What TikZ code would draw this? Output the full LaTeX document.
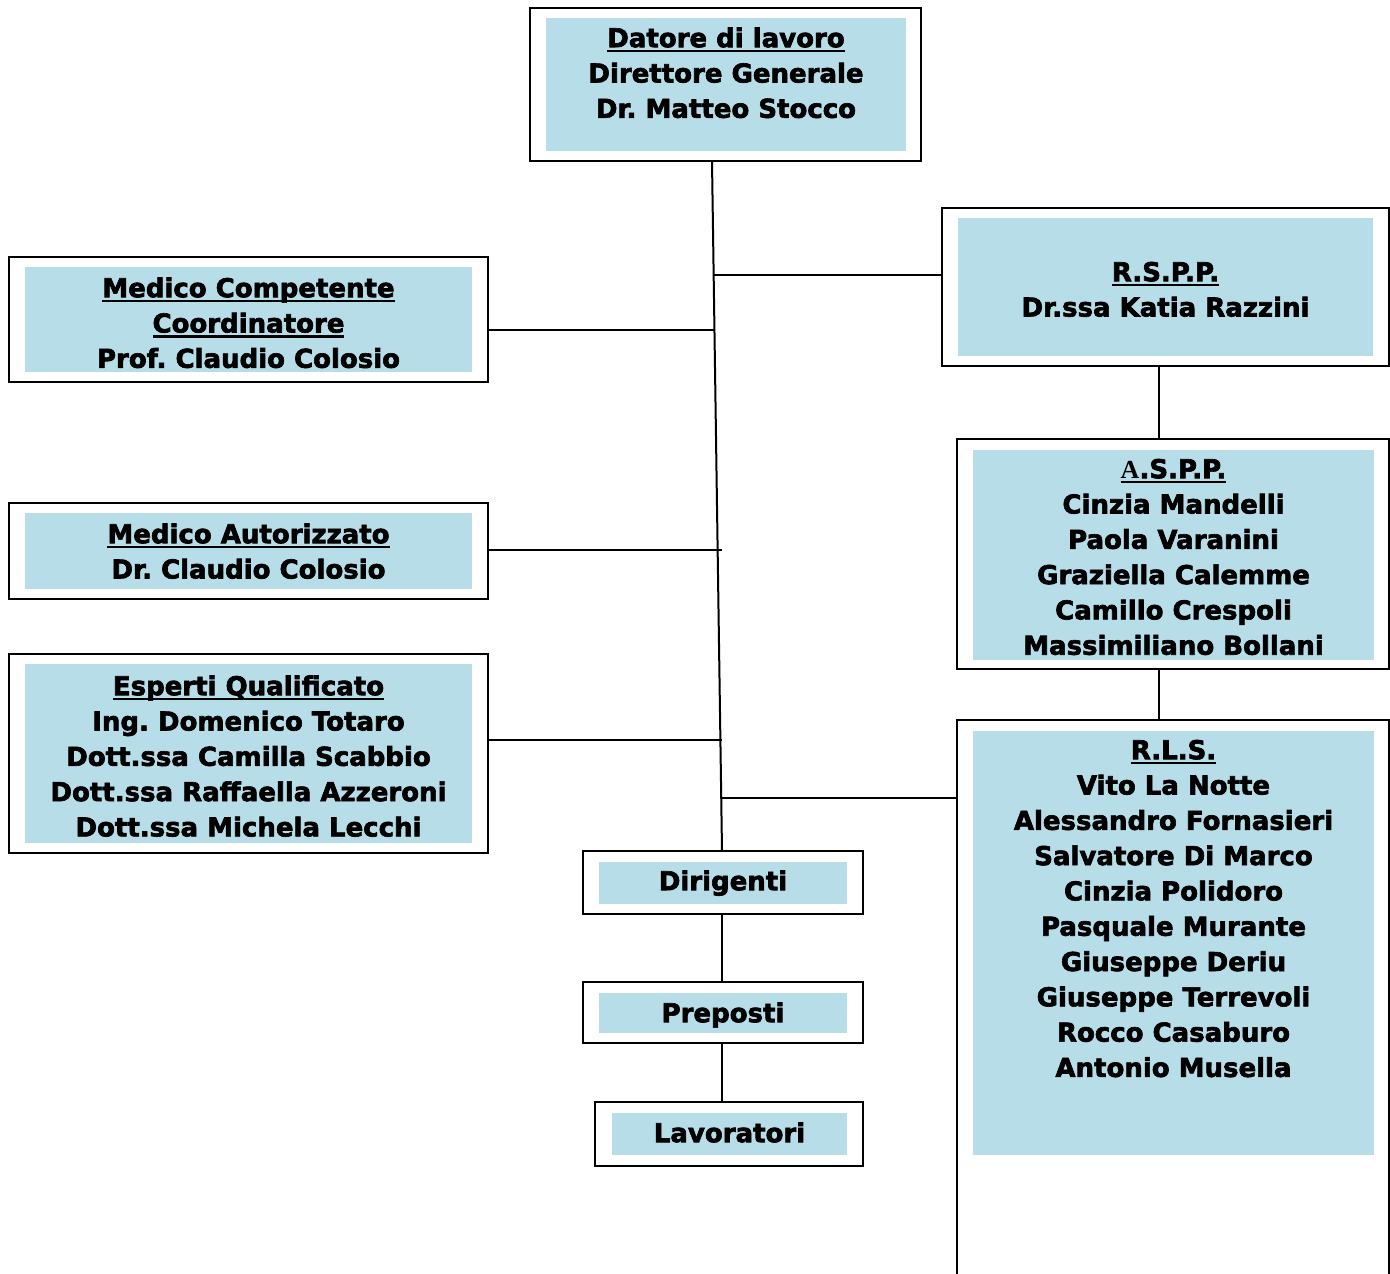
\documentclass[tikz,border=0pt]{standalone}
\usepackage{fontspec}
\setmainfont{DejaVu Sans}[BoldFeatures={FakeBold=2.4}]
\newfontfamily\serA{Liberation Serif}
\usetikzlibrary{fit}
\definecolor{lb}{RGB}{183,221,232}
\newsavebox\ulb
\newcommand\ult[1]{\sbox\ulb{#1}\rlap{\rule[-5pt]{\wd\ulb}{2.5pt}}\usebox\ulb}
\newcommand\ls{\rule[-6pt]{0pt}{27pt}}
\frenchspacing
\begin{document}
\begin{tikzpicture}[x=1pt,y=-1pt,
  outerbox/.style={draw, line width=2pt, inner sep=0pt, outer sep=0pt},
  innerbox/.style={fill=lb, inner sep=0pt, outer sep=0pt},
  txt/.style={font=\bfseries\fontsize{26}{35.3}\selectfont, align=center, inner sep=0pt, anchor=north},
  link/.style={line width=2pt}]
\useasboundingbox (0,0) rectangle (1390,1274);
% boxes
\node[outerbox, fit={(530,8)(921,161)}] (dat) {};
\node[innerbox, fit={(546,18)(906,151)}] (dati) {};
\node[outerbox, fit={(942,208)(1389,366)}] (rspp) {};
\node[innerbox, fit={(958,218)(1373,356)}] (rsppi) {};
\node[outerbox, fit={(9,257)(488,382)}] (mc) {};
\node[innerbox, fit={(25,267)(472,372)}] (mci) {};
\node[outerbox, fit={(9,503)(488,599)}] (ma) {};
\node[innerbox, fit={(25,513)(472,589)}] (mai) {};
\node[outerbox, fit={(9,654)(488,853)}] (eq) {};
\node[innerbox, fit={(25,664)(472,843)}] (eqi) {};
\node[outerbox, fit={(957,439)(1389,669)}] (aspp) {};
\node[innerbox, fit={(973,450)(1374,660)}] (asppi) {};
\node[outerbox, fit={(957,720)(1389,1300)}] (rls) {};
\node[innerbox, fit={(973,731)(1374,1155)}] (rlsi) {};
\node[outerbox, fit={(583,851)(863,914)}] (dir) {};
\node[innerbox, fit={(599,862)(847,904)}] (diri) {};
\node[outerbox, fit={(583,982)(863,1043)}] (prep) {};
\node[innerbox, fit={(599,993)(847,1033)}] (prepi) {};
\node[outerbox, fit={(595,1102)(863,1166)}] (lav) {};
\node[innerbox, fit={(612,1113)(847,1155)}] (lavi) {};
% texts
\node[txt] (datt) at (dati.north |- 0,26) {\ls\ult{Datore di lavoro}\\\ls Direttore Generale\\\ls Dr. Matteo Stocco};
\node[txt] (mct) at (mci.north |- 0,276) {\ls\ult{Medico Competente}\\\ls\ult{Coordinatore}\\\ls Prof. Claudio Colosio};
\node[txt] (mat) at (mai.north |- 0,522) {\ls\ult{Medico Autorizzato}\\\ls Dr. Claudio Colosio};
\node[txt] (eqt) at (eqi.north |- 0,674) {\ls\ult{Esperti Qualificato}\\\ls Ing. Domenico Totaro\\\ls Dott.ssa Camilla Scabbio\\\ls Dott.ssa Raffaella Azzeroni\\\ls Dott.ssa Michela Lecchi};
\node[txt] (rsppt) at (rsppi.north |- 0,260) {\ls\ult{R.S.P.P.}\\\ls Dr.ssa Katia Razzini};
\node[txt] (asppt) at (asppi.north |- 0,457) {\ls\ult{{\serA A}.S.P.P.}\\\ls Cinzia Mandelli\\\ls Paola Varanini\\\ls Graziella Calemme\\\ls Camillo Crespoli\\\ls Massimiliano Bollani};
\node[txt] (rlst) at (rlsi.north |- 0,738) {\ls\ult{R.L.S.}\\\ls Vito La Notte\\\ls Alessandro Fornasieri\\\ls Salvatore Di Marco\\\ls Cinzia Polidoro\\\ls Pasquale Murante\\\ls Giuseppe Deriu\\\ls Giuseppe Terrevoli\\\ls Rocco Casaburo\\\ls Antonio Musella};
\node[txt] (dirt) at (diri.north |- 0,869) {\ls Dirigenti};
\node[txt] (prept) at (prepi.north |- 0,1001) {\ls Preposti};
\node[txt] (lavt) at (lavi.north |- 0,1121) {\ls Lavoratori};
% junction coordinates on the main line
\coordinate (m0) at (712,161);
\coordinate (j1) at (713.6,275);
\coordinate (j2) at (714,330);
\coordinate (j3) at (722,550);
\coordinate (j4) at (722,740);
\coordinate (j5) at (722,798);
% connectors
\draw[link] (m0) -- (dir.north -| 722,0);
\draw[link] (j1) -- (j1 -| rspp.west);
\draw[link] (mc.east |- j2) -- (j2);
\draw[link] (ma.east |- j3) -- (j3);
\draw[link] (eq.east |- j4) -- (j4);
\draw[link] (j5) -- (j5 -| rls.west);
\draw[link] ([xshift=-6.5pt]rspp.south) -- ([xshift=-14pt]aspp.north);
\draw[link] ([xshift=-14pt]aspp.south) -- ([xshift=-14pt]rls.north);
\draw[link] ([xshift=-1pt]dir.south) -- ([xshift=-1pt]prep.north);
\draw[link] ([xshift=-1pt]prep.south) -- ([xshift=-1pt]prep.south |- lav.north);
\end{tikzpicture}
\end{document}
